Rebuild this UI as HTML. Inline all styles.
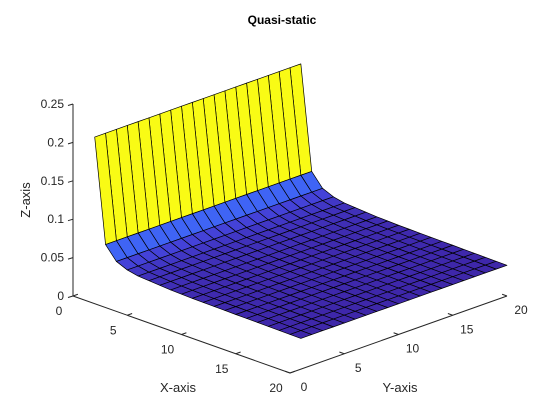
<!DOCTYPE html>
<html><head><meta charset="utf-8"><style>
html,body{margin:0;padding:0;background:#fff;}
svg{display:block;font-family:"Liberation Sans",Arial,sans-serif;}
</style></head><body>
<svg id="chart" width="560" height="420" viewBox="0 0 560 420">
<rect width="560" height="420" fill="#fff"/>
<text x="282" y="24" text-anchor="middle" font-size="12" font-weight="bold" fill="#000">Quasi-static</text>
<g id="surf"></g>
<g id="axes"></g>
<text x="178" y="392" text-anchor="middle" font-size="13" fill="#262626">X-axis</text>
<text x="400" y="392" text-anchor="middle" font-size="13" fill="#262626">Y-axis</text>
<text x="0" y="0" transform="translate(30,200) rotate(-90)" text-anchor="middle" font-size="13" fill="#262626">Z-axis</text>
</svg>
<script>
const xs = [1,2,3,4,5,6,7,8,9,10,11,12,13,14,15,16,17,18,19,20];
const ys = [1,2,3,4,5,6,7,8,9,10,11,12,13,14,15,16,17,18,19,20];
const zByX = [0.207,0.072,0.055,0.049,0.046,0.045,0.044,0.043,0.0425,0.042,0.0418,0.0415,0.0413,0.0411,0.041,0.0408,0.0406,0.0404,0.0402,0.040];
const xTicks = [0,5,10,15,20];
const yTicks = [0,5,10,15,20];
const zTicks = [0,0.05,0.1,0.15,0.2,0.25];
const zTickLabels = ["0","0.05","0.1","0.15","0.2","0.25"];

const NS="http://www.w3.org/2000/svg";
const O={x:73,y:296};
function P(x,y,z){return [O.x+10.85*x+10.85*y, O.y+3.85*x-3.85*y - z*768];}
const parula=[[0.2422,0.1504,0.6603],[0.2810,0.3228,0.9579],[0.1786,0.5289,0.9682],[0.0689,0.6948,0.8394],[0.2161,0.7843,0.5923],[0.6720,0.7793,0.2227],[0.9970,0.7659,0.2199],[0.9769,0.9839,0.0805]];
function cmap(t){t=Math.max(0,Math.min(1,t))*(parula.length-1);const i=Math.min(parula.length-2,Math.floor(t)),f=t-i;
 const c=parula[i].map((v,k)=>Math.round(255*(v+(parula[i+1][k]-v)*f)));return `rgb(${c[0]},${c[1]},${c[2]})`;}
const zmin=Math.min(...zByX), zmax=Math.max(...zByX);
const surf=document.getElementById('surf');
const faces=[];
for(let i=0;i<xs.length-1;i++)for(let j=0;j<ys.length-1;j++)faces.push([i,j]);
faces.sort((a,b)=>(a[0]-a[1])-(b[0]-b[1]));
for(const [i,j] of faces){
 const pts=[P(xs[i],ys[j],zByX[i]),P(xs[i+1],ys[j],zByX[i+1]),P(xs[i+1],ys[j+1],zByX[i+1]),P(xs[i],ys[j+1],zByX[i])];
 const p=document.createElementNS(NS,'polygon');
 p.setAttribute('points',pts.map(q=>q[0].toFixed(2)+','+q[1].toFixed(2)).join(' '));
 p.setAttribute('fill',cmap((zByX[i]-zmin)/(zmax-zmin)));
 p.setAttribute('stroke','#000');p.setAttribute('stroke-width','0.7');p.setAttribute('stroke-linejoin','round');
 
 
 surf.appendChild(p);
}
const ax=document.getElementById('axes');
function line(a,b,name){const l=document.createElementNS(NS,'line');l.setAttribute('x1',a[0]);l.setAttribute('y1',a[1]);l.setAttribute('x2',b[0]);l.setAttribute('y2',b[1]);l.setAttribute('stroke','#262626');l.setAttribute('stroke-width','1');
 
 
 ax.appendChild(l);}
function text(x,y,s,anchor,name){const t=document.createElementNS(NS,'text');t.setAttribute('x',x);t.setAttribute('y',y);t.setAttribute('text-anchor',anchor);t.setAttribute('font-size','12');t.setAttribute('fill','#262626');t.textContent=s;
 
 
 ax.appendChild(t);}
line(P(0,0,0),P(20,0,0),'x-axis-line');
line(P(20,0,0),P(20,20,0),'y-axis-line');
line(P(0,0,0),P(0,0,0.25),'z-axis-line');
xTicks.forEach(v=>{const a=P(v,0,0),b=P(v,0.45,0);line(a,b,'x-tick');const q=P(v,0,0);text(q[0]-14,q[1]+19,String(v),'middle','x-tick-label');});
yTicks.forEach(v=>{const a=P(20,v,0),b=P(19.55,v,0);line(a,b,'y-tick');const q=P(20,v,0);text(q[0]+14,q[1]+18,String(v),'middle','y-tick-label');});
zTicks.forEach((v,k)=>{const a=P(0,0,v);line(a,[a[0]-5,a[1]+1.5],'z-tick');text(a[0]-9,a[1]+4,zTickLabels[k],'end','z-tick-label');});
</script>
</body></html>
